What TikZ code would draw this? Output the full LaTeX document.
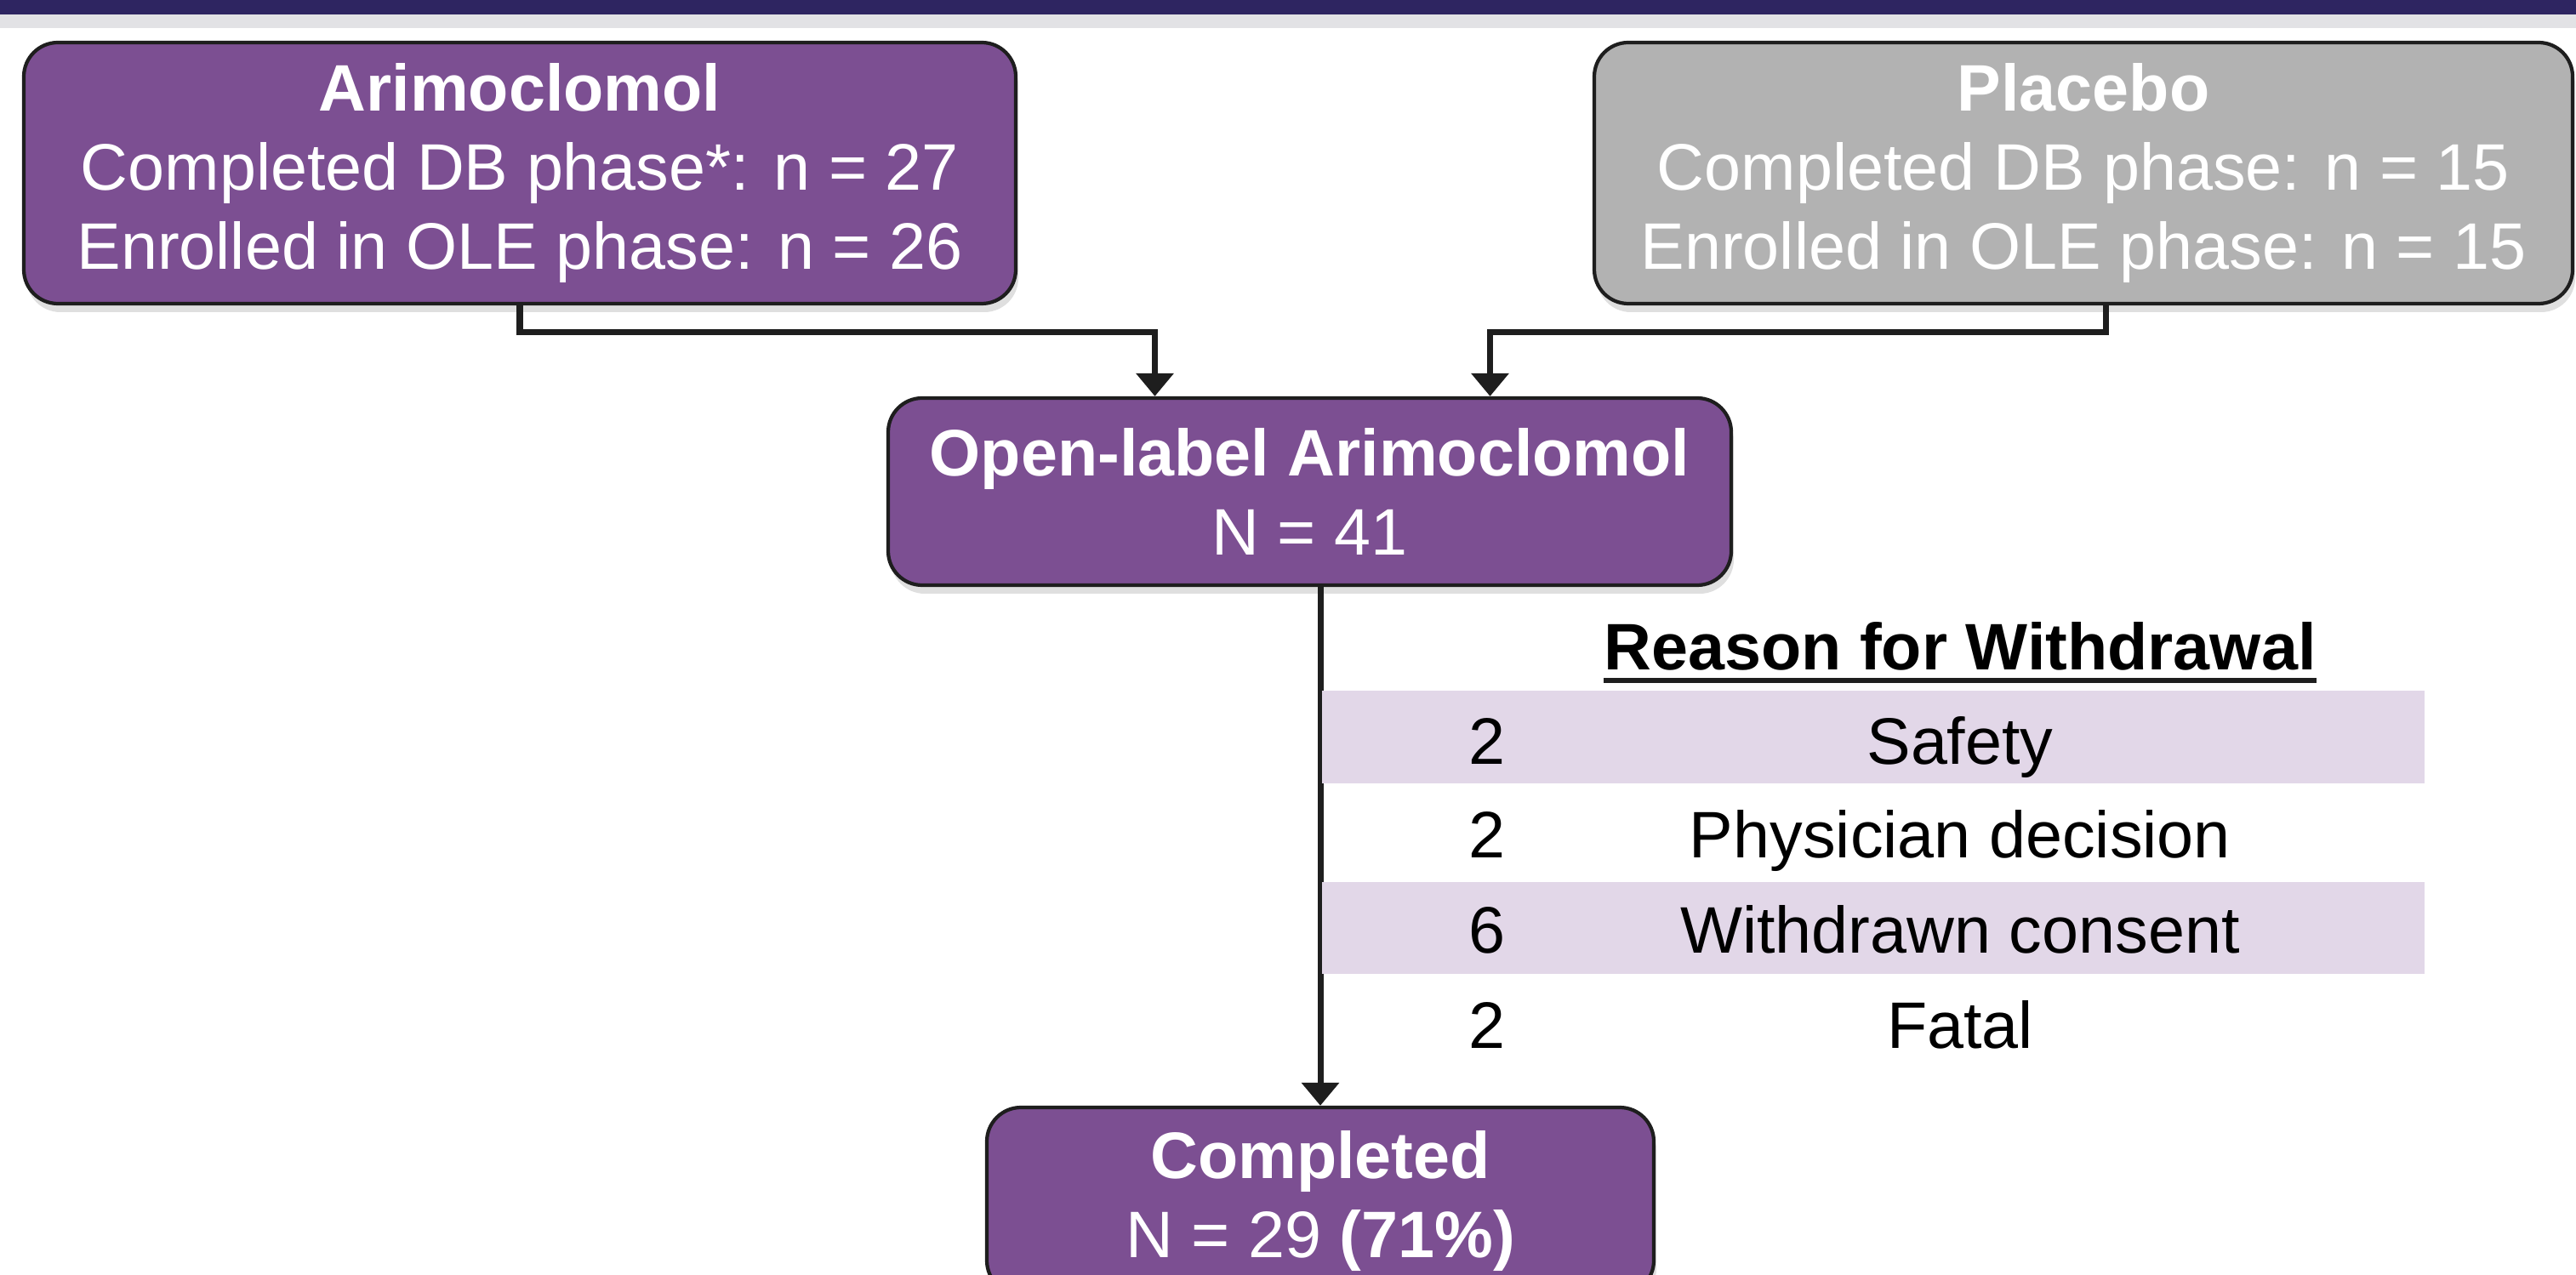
\documentclass[tikz,border=0pt]{standalone}
\usepackage{fontspec}
\setmainfont{Liberation Sans}
\usepackage{xcolor}
\usepackage{tikz}
\usetikzlibrary{arrows.meta,positioning,calc,shadows}
\definecolor{olepurple}{RGB}{124,79,146}
\definecolor{placebogrey}{RGB}{178,178,178}
\definecolor{rowshade}{RGB}{226,215,232}
\definecolor{navybar}{RGB}{46,37,97}
\definecolor{stripgrey}{RGB}{226,226,229}
\definecolor{linedark}{RGB}{30,30,30}

\begin{document}
\begin{tikzpicture}[>={Triangle[width=0.43cm,length=0.27cm]},
  every node/.style={font=\fontsize{22}{26.5}\selectfont},
  armbox/.style={draw=linedark,line width=1.2pt,rounded corners=0.4cm,fill=olepurple,text=white,align=center,
    drop shadow={opacity=0.25,shadow xshift=0.03cm,shadow yshift=-0.1cm}},
  conn/.style={draw=linedark,line width=2pt},
  shaderow/.style={fill=rowshade,inner sep=0pt,minimum width=12.96cm,minimum height=1.08cm}]
\clip (0,0) rectangle (30.28,-14.99);
% header band
\fill[navybar] (0,0) rectangle (30.28,-0.17);
\fill[stripgrey] (0,-0.17) rectangle (30.28,-0.33);
% arms
\node[armbox,minimum width=11.66cm,minimum height=3.07cm](arim) at (6.11,-2.035){\textbf{Arimoclomol}\\Completed DB phase*: n = 27\\Enrolled in OLE phase: n = 26};
\node[armbox,fill=placebogrey,minimum width=11.50cm,minimum height=3.07cm](plac) at (24.49,-2.035){\textbf{Placebo}\\Completed DB phase: n = 15\\Enrolled in OLE phase: n = 15};
\node[armbox,minimum width=9.91cm,minimum height=2.20cm](ole) at (15.395,-5.78){\textbf{Open-label Arimoclomol}\\N = 41};
\node[armbox,minimum width=7.84cm,minimum height=2.20cm](done) at (15.52,-14.12){\textbf{Completed}\\N = 29 \textbf{(71\%)}};
\draw[conn,->](arim.south)--++(0,-0.31)-|([xshift=-1.82cm]ole.north);
\draw[conn,->]([xshift=0.26cm]plac.south)--++(0,-0.31)-|([xshift=2.12cm]ole.north);
\draw[conn,->](ole.south -| done.north)--(done.north);
% withdrawal table
\node[font=\fontsize{22}{26.5}\selectfont\bfseries,inner sep=0pt](why) at (23.04,-7.6){Reason for Withdrawal};
\draw[line width=1.7pt,linedark]([yshift=-0.12cm]why.base west)--([yshift=-0.12cm]why.base east);
\node[shaderow](row1) at (22.02,-8.665){};
\node[shaderow](row3) at (22.02,-10.91){};
\foreach \k/\num/\why/\y in {1/2/Safety/-8.98,2/2/Physician decision/-10.08,3/6/Withdrawn consent/-11.20,4/2/Fatal/-12.32}{
  \node[anchor=base](num\k) at (17.48,\y){\num};
  \node[anchor=base](reason\k) at (23.04,\y){\why};
}
\end{tikzpicture}
\end{document}
